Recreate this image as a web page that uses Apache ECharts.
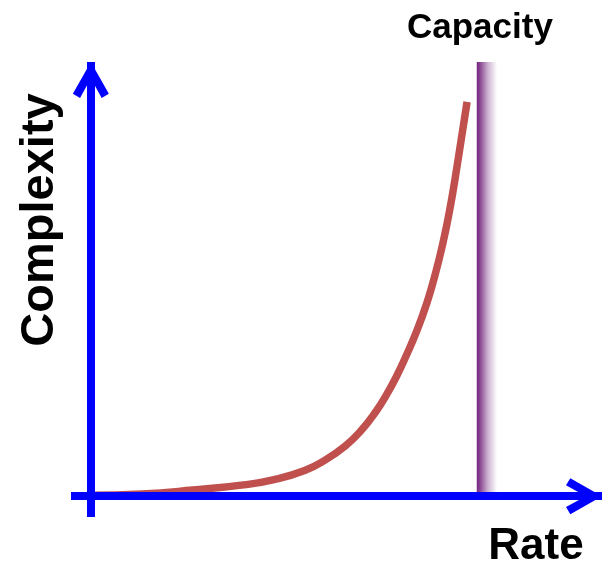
<!DOCTYPE html>
<html>
<head>
<meta charset="utf-8">
<script src="https://cdn.jsdelivr.net/npm/echarts@6/dist/echarts.min.js"></script>
<style>
    html, body { margin: 0; padding: 0; background: #fff; }
    #chart { width: 603px; height: 565px; }
</style>
</head>
<body>
<div id="chart"></div>
<script>
// rate (x) and complexity (y), 0..100 scale
var rate = [0, 10, 20, 30, 36, 42, 46, 50, 53, 56, 58, 60, 62, 64, 66, 67.5, 69, 70.5, 72, 73.9];
var complexity = [0.2, 0.5, 1.4, 2.6, 3.8, 5.9, 8.3, 11.6, 15.0, 19.5, 23.2, 27.5, 32.5, 38.0, 44.5, 50.5, 57.5, 66.0, 76.5, 90.8];
// capacity band (rate range)
var capacityRange = [75.8, 79.8];
var capacityLabel = 'Capacity';
var xName = 'Rate';
var yName = 'Complexity';

var curveData = [];
for (var i = 0; i < rate.length; i++) {
    curveData.push([rate[i], complexity[i]]);
}

// open chevron arrow, pointing up
var chevron = 'path://M50 0 L100 88 L80 100 L50 45 L20 100 L0 88 Z';
var blue = '#0000ff';
var font = '"Liberation Sans", Arial, sans-serif';

var axisLine = {
    onZero: true,
    symbol: ['none', chevron],
    symbolSize: [36, 36],
    symbolOffset: [0, -18],
    lineStyle: { color: blue, width: 8, cap: 'butt' }
};

var chart = echarts.init(document.getElementById('chart'));
chart.setOption({
    animation: false,
    grid: { left: 71, right: 1, top: 62, bottom: 48 },
    xAxis: {
        type: 'value',
        min: -3.9,
        max: 100.4,
        z: 5,
        axisLine: axisLine,
        axisTick: { show: false },
        axisLabel: { show: false },
        splitLine: { show: false }
    },
    yAxis: {
        type: 'value',
        min: -4.8,
        max: 100,
        z: 5,
        axisLine: axisLine,
        axisTick: { show: false },
        axisLabel: { show: false },
        splitLine: { show: false }
    },
    graphic: [{
        type: 'text',
        x: 536,
        y: 547,
        style: {
            text: xName,
            font: 'bold 44px ' + font,
            fill: '#000',
            textAlign: 'center',
            textVerticalAlign: 'middle'
        }
    }, {
        type: 'text',
        x: 40,
        y: 220,
        rotation: Math.PI / 2,
        style: {
            text: yName,
            font: 'bold 47px ' + font,
            fill: '#000',
            textAlign: 'center',
            textVerticalAlign: 'middle'
        }
    }],
    series: [{
        type: 'line',
        data: curveData,
        smooth: true,
        symbol: 'none',
        lineStyle: { color: '#c0504d', width: 7.5, cap: 'butt' },
        markArea: {
            silent: true,
            itemStyle: {
                color: new echarts.graphic.LinearGradient(0, 0, 1, 0, [
                    { offset: 0, color: '#762585' },
                    { offset: 0.15, color: '#87448f' },
                    { offset: 0.55, color: '#cdb3d1' },
                    { offset: 1, color: '#ffffff' }
                ])
            },
            label: {
                show: true,
                position: 'top',
                distance: 16,
                offset: [-7, 0],
                color: '#000',
                fontFamily: font,
                fontWeight: 'bold',
                fontSize: 35
            },
            data: [[
                { name: capacityLabel, xAxis: capacityRange[0], yAxis: 0.9 },
                { xAxis: capacityRange[1], yAxis: 100 }
            ]]
        }
    }]
});
</script>
</body>
</html>
